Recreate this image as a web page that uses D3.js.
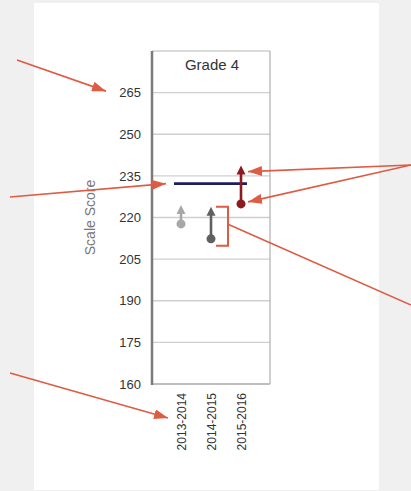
<!DOCTYPE html>
<html><head><meta charset="utf-8">
<script src="https://cdn.jsdelivr.net/npm/d3@7"></script>
<style>html,body{margin:0;padding:0;background:#f0f0f0;}svg{display:block;}</style>
</head><body>
<script>
const categories = ["2013-2014", "2014-2015", "2015-2016"];
const startValues = [217.7, 212.3, 224.9];
const endValues = [224.5, 223.9, 238.7];
const targetValue = 232.2;
const yTicks = [160, 175, 190, 205, 220, 235, 250, 265];
const seriesColors = ["#a8a8a8", "#606060", "#8c1a1f"];
const title = "Grade 4";
const yLabel = "Scale Score";

const W = 411, H = 491;
const svg = d3.select("body").append("svg").attr("width", W).attr("height", H);
svg.append("rect").attr("x", 0).attr("y", 0).attr("width", W).attr("height", H).attr("fill", "#f0f0f0");
svg.append("rect").attr("x", 34).attr("y", 3).attr("width", 345).attr("height", 487).attr("fill", "#fff");

const pLeft = 152, pRight = 270, pTop = 51, pBottom = 384;
const y = d3.scaleLinear().domain([160, 280]).range([pBottom, pTop]);
const x = d3.scalePoint().domain(categories).range([pLeft, pRight]).padding(0.967);

const font = "'Liberation Sans', Arial, sans-serif";
const red = "#de5b44";

// grid
svg.append("g").selectAll("line").data(yTicks.concat([280])).join("line")
  .attr("x1", pLeft).attr("x2", pRight)
  .attr("y1", d => y(d)).attr("y2", d => y(d))
  .attr("stroke", "#cfcfcf").attr("stroke-width", 1.3);
// right border
svg.append("line").attr("x1", pRight).attr("x2", pRight).attr("y1", pTop).attr("y2", pBottom)
  .attr("stroke", "#b5b5b5").attr("stroke-width", 1.3);
// bottom border
svg.append("line").attr("x1", pLeft).attr("x2", pRight).attr("y1", pBottom).attr("y2", pBottom)
  .attr("stroke", "#b5b5b5").attr("stroke-width", 1.3);
// left axis line
svg.append("line").attr("x1", pLeft).attr("x2", pLeft).attr("y1", pTop).attr("y2", pBottom + 1)
  .attr("stroke", "#7a7a7a").attr("stroke-width", 2.5);

// y tick labels via axis
const yAxis = d3.axisLeft(y).tickValues(yTicks).tickSize(0).tickPadding(11);
const gy = svg.append("g").attr("transform", `translate(${pLeft},0)`).call(yAxis);
gy.select(".domain").remove();
gy.selectAll("text").attr("font-family", font).attr("font-size", 13).attr("fill", "#333");

// x labels
const xAxis = d3.axisBottom(x).tickSize(0).tickPadding(0);
const gx = svg.append("g").attr("transform", `translate(0,${pBottom})`).call(xAxis);
gx.select(".domain").remove();
gx.selectAll("text")
  .attr("font-family", font).attr("font-size", 12).attr("fill", "#333")
  .attr("text-anchor", "end")
  .attr("transform", "rotate(-90)")
  .attr("x", -9).attr("y", 0).attr("dy", "0.35em");

// title
svg.append("text").attr("x", (pLeft + pRight) / 2 + 1).attr("y", 70)
  .attr("text-anchor", "middle").attr("font-family", font).attr("font-size", 15)
  .attr("fill", "#333").text(title);
// y label
svg.append("text").attr("transform", `translate(95,${y(220)}) rotate(-90)`)
  .attr("text-anchor", "middle").attr("font-family", font).attr("font-size", 14)
  .attr("fill", "#777").text(yLabel);

// target line
const xs0 = x(categories[0]) - 7, xs1 = x(categories[2]) + 6;
svg.append("line").attr("x1", xs0).attr("x2", xs1)
  .attr("y1", y(targetValue)).attr("y2", y(targetValue))
  .attr("stroke", "#1f1f5c").attr("stroke-width", 2.8);

// growth arrows
const data = categories.map((c, i) => ({c, s: startValues[i], e: endValues[i], col: seriesColors[i]}));
const g = svg.append("g");
data.forEach(d => {
  const cx = x(d.c);
  const ye = y(d.e), ys = y(d.s);
  g.append("line").attr("x1", cx).attr("x2", cx).attr("y1", ys).attr("y2", ye + 6)
    .attr("stroke", d.col).attr("stroke-width", 2.6);
  g.append("path").attr("d", `M${cx},${ye} L${cx - 4.5},${ye + 9} L${cx + 4.5},${ye + 9} Z`)
    .attr("fill", d.col);
  g.append("circle").attr("cx", cx).attr("cy", ys).attr("r", 4.5).attr("fill", d.col);
});

// annotations
const defs = svg.append("defs");
defs.append("marker").attr("id", "ah").attr("viewBox", "0 0 14 10")
  .attr("refX", 14).attr("refY", 5).attr("markerWidth", 14).attr("markerHeight", 10)
  .attr("markerUnits", "userSpaceOnUse").attr("orient", "auto")
  .append("path").attr("d", "M0,0 L14,5 L0,10 Z").attr("fill", red);

function arrow(x1, y1, x2, y2) {
  svg.append("line").attr("x1", x1).attr("y1", y1).attr("x2", x2).attr("y2", y2)
    .attr("stroke", red).attr("stroke-width", 1.6).attr("marker-end", "url(#ah)");
}
arrow(17, 60, 106, y(265) - 1.5);
arrow(10, 197, x(categories[0]) - 15, y(targetValue));
arrow(10, 373, x(categories[0]) - 13, 418);
arrow(411, 165, x(categories[2]) + 7, y(endValues[2]) + 6);
arrow(411, 165, x(categories[2]) + 7, y(startValues[2]) - 2);

// bracket around 2014-2015 change
const bx0 = x(categories[1]) + 5, bx1 = x(categories[1]) + 17;
const by0 = y(endValues[1]), by1 = y(startValues[1]) + 7;
svg.append("path").attr("d", `M${bx0},${by0} L${bx1},${by0} L${bx1},${by1} L${bx0},${by1}`)
  .attr("fill", "none").attr("stroke", red).attr("stroke-width", 2);
svg.append("line").attr("x1", bx1).attr("y1", (by0 + by1) / 2 - 2).attr("x2", 411).attr("y2", 305)
  .attr("stroke", red).attr("stroke-width", 1.6);
</script>
</body></html>
